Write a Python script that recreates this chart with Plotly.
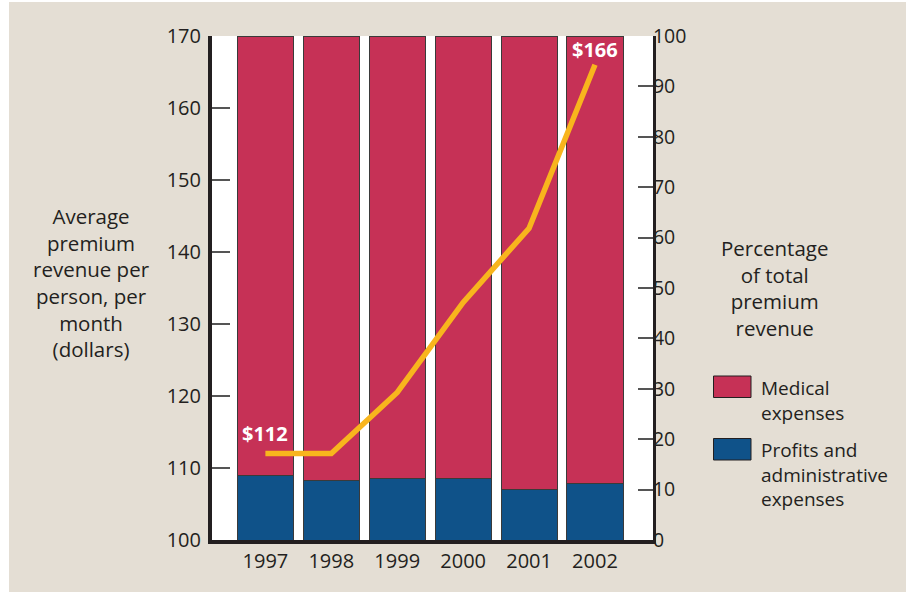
import plotly.graph_objects as go

years = ["1997", "1998", "1999", "2000", "2001", "2002"]
premium = [112, 112, 120.5, 133, 143.3, 166]
profits_admin_pct = [12.7, 11.9, 12.2, 12.2, 10.1, 11.2]
medical_pct = [round(100 - p, 1) for p in profits_admin_pct]
left_ticks = [100, 110, 120, 130, 140, 150, 160, 170]
right_ticks = [0, 10, 20, 30, 40, 50, 60, 70, 80, 90, 100]

RED = "#c63156"
BLUE = "#0f5289"
GOLD = "#f8b51d"
INK = "#231f20"
BEIGE = "#e4ded4"
FONT = "Open Sans"

W, H = 906, 592
L, R, T, B = 212, 653, 36, 540


def px(x):
    return (x - L) / (R - L)


def py(y):
    return (B - y) / (B - T)


xpos = list(range(len(years)))

fig = go.Figure()
fig.add_trace(go.Bar(x=xpos, y=profits_admin_pct, yaxis="y", marker=dict(color=BLUE, line=dict(color="#3a3a3a", width=1)),
                     width=0.85, name="Profits and administrative expenses", hoverinfo="y"))
fig.add_trace(go.Bar(x=xpos, y=medical_pct, yaxis="y", marker=dict(color=RED, line=dict(color="#3a3a3a", width=1)),
                     width=0.85, name="Medical expenses", hoverinfo="y"))
fig.add_trace(go.Scatter(x=xpos, y=premium, yaxis="y2", mode="lines",
                         line=dict(color=GOLD, width=5.5), name="Premium", hoverinfo="y"))

annotations = []
for i in (0, len(years) - 1):
    annotations.append(dict(x=xpos[i], y=premium[i], xref="x", yref="y2", text=f"<b>${premium[i]:.0f}</b>",
                            showarrow=False, yshift=20 if i == 0 else 15, xshift=0,
                            font=dict(family=FONT, size=20, color="white")))

annotations.append(dict(x=px(91.5), y=py(282.5), xref="paper", yref="paper",
                        text="Average<br>premium<br>revenue per<br>person, per<br>month<br>(dollars)",
                        showarrow=False, xanchor="center", yanchor="middle", align="center",
                        font=dict(family=FONT, size=20.5, color=INK)))
annotations.append(dict(x=px(774), y=py(287.5), xref="paper", yref="paper",
                        text="Percentage<br>of total<br>premium<br>revenue",
                        showarrow=False, xanchor="center", yanchor="middle", align="center",
                        font=dict(family=FONT, size=20.5, color=INK)))
annotations.append(dict(x=px(759), y=py(400), xref="paper", yref="paper",
                        text="Medical<br>expenses", showarrow=False, xanchor="left", yanchor="middle", align="left",
                        font=dict(family=FONT, size=19, color=INK)))
annotations.append(dict(x=px(759), y=py(474.5), xref="paper", yref="paper",
                        text="Profits and<br>administrative<br>expenses", showarrow=False, xanchor="left",
                        yanchor="middle", align="left",
                        font=dict(family=FONT, size=19, color=INK)))

shapes = [
    dict(type="rect", xref="paper", yref="paper", x0=px(-5), x1=px(9), y0=py(W), y1=py(-10),
         fillcolor="white", line=dict(width=0), layer="below"),
    dict(type="rect", xref="paper", yref="paper", x0=px(-5), x1=px(W + 10), y0=py(2), y1=py(-10),
         fillcolor="white", line=dict(width=0), layer="below"),
    dict(type="rect", xref="paper", yref="paper", x0=px(713.5), x1=px(751), y0=py(397.5), y1=py(376),
         fillcolor=RED, line=dict(color=INK, width=1)),
    dict(type="rect", xref="paper", yref="paper", x0=px(713.5), x1=px(751), y0=py(460), y1=py(438.5),
         fillcolor=BLUE, line=dict(color=INK, width=1)),
]

fig.update_layout(
    width=W, height=H,
    margin=dict(l=L, r=W - R, t=T, b=H - B, pad=0),
    paper_bgcolor=BEIGE, plot_bgcolor="white",
    barmode="stack", bargap=0.15, showlegend=False,
    font=dict(family=FONT, size=20, color=INK),
    xaxis=dict(range=[-0.81, 5.88], tickmode="array", tickvals=xpos, ticktext=years,
               showline=True, linecolor=INK, linewidth=4, ticks="", showgrid=False, zeroline=False,
               tickfont=dict(family=FONT, size=20, color=INK), ticklabelstandoff=0),
    yaxis=dict(side="right", range=[0, 100], tickmode="array", tickvals=right_ticks,
               showline=True, linecolor=INK, linewidth=3, ticks="inside", ticklen=15, tickwidth=1.5,
               tickcolor="#555555", showgrid=False, zeroline=False, ticklabelstandoff=-7,
               tickfont=dict(family=FONT, size=19.5, color=INK)),
    yaxis2=dict(side="left", overlaying="y", range=[100, 170], tickmode="array", tickvals=left_ticks,
                showline=True, linecolor=INK, linewidth=4, ticks="inside", ticklen=18, tickwidth=1.5,
                tickcolor="#555555", showgrid=False, zeroline=False, ticklabelstandoff=3,
                tickfont=dict(family=FONT, size=20, color=INK)),
    annotations=annotations,
    shapes=shapes,
)

fig.write_html("out.html", config={"displayModeBar": False},
               post_script="document.body.style.margin='0';")
